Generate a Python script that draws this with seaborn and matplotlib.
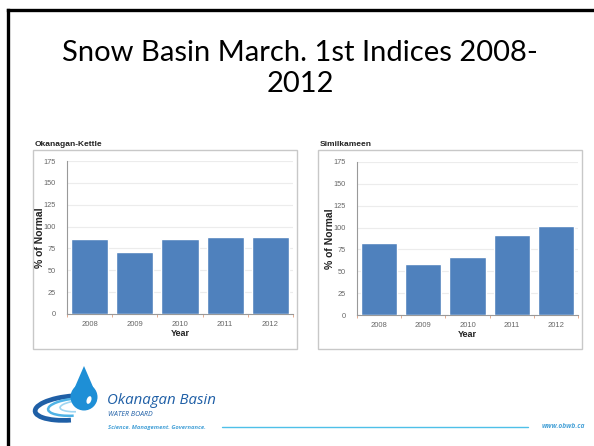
import numpy as np
import pandas as pd
import matplotlib
matplotlib.use('Agg')
import matplotlib.pyplot as plt
import seaborn as sns
from matplotlib.patches import Rectangle, Arc, Ellipse, Polygon
from matplotlib.lines import Line2D

# Dati
years = ['2008', '2009', '2010', '2011', '2012']
okanagan_kettle = [86, 71, 86, 88, 88]
similkameen = [82, 58, 66, 92, 102]
y_ticks = [0, 25, 50, 75, 100, 125, 150, 175]

sns.set_theme(style='white')
plt.rcParams['font.family'] = ['Liberation Sans', 'DejaVu Sans']

bar_color = '#4F81BD'
grid_color = '#ececec'
tick_color = '#666666'

fig = plt.figure(figsize=(5.94, 4.46), dpi=100)
fig.patch.set_facecolor('white')

# bordo della slide (solo sinistra e sopra visibili)
fig.add_artist(Line2D([8 / 594, 8 / 594], [0, 1 - 9.5 / 446], color='black', lw=2.4,
                      transform=fig.transFigure, solid_capstyle='projecting'))
fig.add_artist(Line2D([8 / 594, 1], [1 - 9.5 / 446, 1 - 9.5 / 446], color='black', lw=2.4,
                      transform=fig.transFigure, solid_capstyle='projecting'))

# titolo
fig.text(0.505, 1 - 53 / 446, 'Snow Basin March. 1st Indices 2008-', ha='center', va='center',
         fontsize=21, family=['Lato', 'DejaVu Sans'], color='black')
fig.text(0.505, 1 - 84 / 446, '2012', ha='center', va='center',
         fontsize=21, family=['Lato', 'DejaVu Sans'], color='black')


def panel(box, ax_rect, title, values):
    x0, y0, x1, y1 = box
    fig.add_artist(Rectangle((x0 / 594, 1 - y1 / 446), (x1 - x0) / 594, (y1 - y0) / 446,
                             transform=fig.transFigure, facecolor='white',
                             edgecolor='#c8c8c8', lw=1.0, zorder=0))
    fig.text((x0 + 2) / 594, 1 - (y0 - 6) / 446, title, ha='left', va='center',
             fontsize=6, fontweight='bold', color='#222222')
    ax = fig.add_axes(ax_rect)
    sns.barplot(x=years, y=values, color=bar_color, saturation=1, width=0.82, ax=ax, zorder=3)
    ax.set_ylim(0, 175)
    ax.set_xlim(-0.5, 4.5)
    ax.set_yticks(y_ticks)
    ax.yaxis.grid(True, color=grid_color, lw=0.8, zorder=0)
    ax.set_axisbelow(True)
    for s in ['top', 'right']:
        ax.spines[s].set_visible(False)
    for s in ['left', 'bottom']:
        ax.spines[s].set_color('#999999')
        ax.spines[s].set_linewidth(0.8)
    ax.tick_params(axis='y', labelsize=5.3, colors=tick_color, length=2, width=0.6, pad=6)
    ax.tick_params(axis='x', labelsize=5.5, colors=tick_color, length=0, pad=5)
    ax.set_xticks(np.arange(-0.5, 5, 1), minor=True)
    ax.tick_params(axis='x', which='minor', length=2, width=0.6, color='#e0a080', bottom=True)
    ax.set_xlabel('Year', fontsize=6.5, fontweight='bold', color='#222222', labelpad=1)
    ax.set_ylabel('% of Normal', fontsize=7.5, fontweight='bold', color='#222222', labelpad=-1)
    ax.set_facecolor('white')
    return ax


panel((33, 150, 297, 349), [67 / 594, 1 - 314 / 446, 226 / 594, 153 / 446],
      'Okanagan-Kettle', okanagan_kettle)
panel((318, 150, 582, 349), [357 / 594, 1 - 315 / 446, 221 / 594, 153 / 446],
      'Similkameen', similkameen)

# logo Okanagan Basin Water Board (approssimato)
logo = fig.add_axes([0, 0, 1, 1], zorder=5)
logo.set_xlim(0, 594)
logo.set_ylim(446, 0)
logo.axis('off')
logo.patch.set_alpha(0)

logo.add_patch(Arc((72, 408), 74, 24, angle=-5, theta1=100, theta2=330, color='#1f5fa6', lw=3.4))
logo.add_patch(Arc((76, 407), 56, 17, angle=-5, theta1=110, theta2=340, color='#4fb3e6', lw=1.8))
logo.add_patch(Arc((80, 406), 40, 11, angle=-5, theta1=130, theta2=350, color='#9fd6f2', lw=1.2))
logo.add_patch(Ellipse((84, 397), 27, 27, facecolor='#1e8fd6', edgecolor='none'))
logo.add_patch(Polygon([(74.5, 388), (84, 366), (93.5, 388)], closed=True,
                       facecolor='#1e8fd6', edgecolor='none'))
logo.add_patch(Ellipse((89, 400), 4.5, 8, angle=20, facecolor='white', edgecolor='none'))

logo.text(107, 400, 'Okanagan Basin', fontsize=10.8, style='italic', color='#1f5fa6',
          va='center', ha='left', family=['Open Sans', 'DejaVu Sans'])
logo.text(108, 414, 'WATER BOARD', fontsize=5, style='italic', color='#1f5fa6',
          va='center', ha='left', family=['Open Sans', 'DejaVu Sans'])
logo.text(108, 427, 'Science. Management. Governance.', fontsize=4.2, style='italic',
          fontweight='bold', color='#4aa3d8', va='center', ha='left',
          family=['Open Sans', 'DejaVu Sans'])
logo.plot([222, 528], [427, 427], color='#4fc0e8', lw=1.0)
logo.text(585, 427, 'www.obwb.ca', fontsize=4.8, style='italic', fontweight='bold',
          color='#4aa3d8', va='center', ha='right', family=['Open Sans', 'DejaVu Sans'])

fig.savefig('out.png', dpi=100)
